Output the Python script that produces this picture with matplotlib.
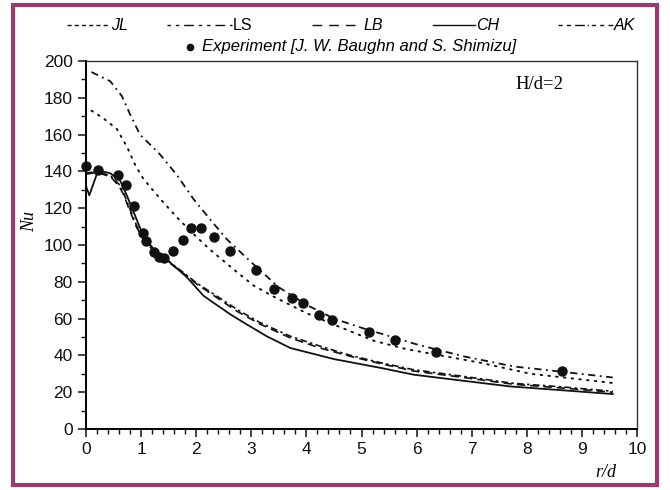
import numpy as np
import matplotlib
matplotlib.use("Agg")
import matplotlib.pyplot as plt
from matplotlib.lines import Line2D
from matplotlib.patches import Rectangle


# Données expérimentales (Baughn & Shimizu)
exp_r = [0.0, 0.22, 0.58, 0.72, 0.87, 1.04, 1.09, 1.24, 1.33, 1.42, 1.58, 1.76, 1.90,
         2.09, 2.33, 2.61, 3.09, 3.42, 3.74, 3.94, 4.23, 4.46, 5.13, 5.6, 6.36, 8.64]
exp_nu = [143, 140.5, 138, 132.5, 121, 106.5, 102, 96, 93.5, 93, 96.5, 102.5, 109.5,
          109.5, 104.5, 96.5, 86.5, 76, 71, 68.5, 62, 59, 52.5, 48.5, 42, 31.5]

# Modèles de turbulence
ak_r = [0.1, 0.44, 0.65, 0.8, 0.98, 1.35, 1.65, 1.95, 2.25, 2.56, 3.04, 3.5, 4.0,
        4.5, 5.0, 5.5, 6.0, 6.85, 7.76, 8.67, 9.56]
ak_nu = [194, 189, 181, 171, 160, 149, 138, 125, 114, 103, 89.5, 77, 67.5,
         60, 55, 50.5, 46, 39.5, 34, 31, 28]

jl_r = [0.1, 0.31, 0.56, 0.75, 0.9, 1.04, 1.35, 1.65, 1.95, 2.25, 2.67, 3.04, 3.4,
        4.0, 4.56, 5.22, 5.8, 6.25, 7.16, 8.07, 8.67, 9.56]
jl_nu = [173, 169, 163, 153, 143, 136, 125, 115, 106, 97.5, 87, 78, 72,
         63, 56, 48, 43.5, 41, 36, 30, 28, 25]

ch_r = [0.0, 0.06, 0.22, 0.44, 0.62, 0.74, 0.89, 1.04, 1.22, 1.47, 1.83, 2.13, 2.31,
        2.62, 2.92, 3.28, 3.71, 4.5, 5.35, 5.95, 6.85, 7.71, 8.67, 9.56]
ch_nu = [132, 127, 140.5, 139, 135, 127, 116, 105, 98, 92, 82.5, 72.5, 68.7,
         62.3, 56.8, 50.4, 44, 38, 33.2, 29.5, 26.2, 23.1, 21, 19]

ls_r = [0.0, 0.2, 0.45, 0.6, 0.68, 0.77, 0.92, 1.1, 1.35, 1.77, 2.0, 2.37, 2.74,
        3.16, 3.71, 4.25, 4.8, 5.35, 5.95, 6.85, 7.76, 8.67, 9.56]
ls_nu = [139, 140, 137.5, 133, 128.5, 121.5, 110.5, 101.5, 94.5, 85, 79.5, 72.3, 65,
         57.8, 50.4, 45, 40, 36, 32.2, 28.6, 24.8, 22.8, 20.5]
lb_nu = [138.5, 139.5, 137, 132, 127.5, 120.5, 109.5, 100.5, 94, 84.5, 79, 71.5, 64,
         57, 49.5, 44, 39.5, 35.5, 31.5, 28, 24.3, 22.2, 20]

legend_labels = ["JL", "LS", "LB", "CH", "AK"]

W, H = 670, 490
fig = plt.figure(figsize=(6.7, 4.9), dpi=100)
ax = fig.add_axes([86 / W, 1 - 429 / H, (637 - 86) / W, (429 - 61) / H])

k = "#111111"
ax.plot(jl_r, jl_nu, color=k, lw=1.4, linestyle=(0, (0.8, 3.2)), dash_capstyle="round")
ax.plot(ak_r, ak_nu, color=k, lw=1.3, linestyle=(0, (4, 2.5, 1, 2.5)))
ax.plot(ls_r, ls_nu, color=k, lw=1.2, linestyle=(0, (4, 2, 1.5, 2)))
ax.plot(ls_r, lb_nu, color=k, lw=1.2, linestyle=(0, (5, 3)))
ax.plot(ch_r, ch_nu, color=k, lw=1.3, linestyle="-")
ax.plot(exp_r, exp_nu, "o", color=k, ms=6.5, clip_on=False)

ax.set_xlim(0, 10)
ax.set_ylim(0, 200)
ax.set_xticks(np.arange(0, 11, 1))
ax.set_xticks(np.arange(0, 10.01, 0.2), minor=True)
ax.set_yticks(np.arange(0, 201, 20))
ax.set_yticks(np.arange(0, 201, 10), minor=True)
ax.tick_params(axis="both", which="major", direction="out", length=6, width=1.1,
               labelsize=12.5, colors=k)
ax.tick_params(axis="both", which="minor", direction="out", length=3.5, width=1, colors=k)
for s in ["left", "bottom"]:
    ax.spines[s].set_linewidth(1.4)
for s in ["top", "right"]:
    ax.spines[s].set_linewidth(1.0)
    ax.spines[s].set_color("#333333")
for lab in ax.get_xticklabels() + ax.get_yticklabels():
    lab.set_fontfamily("Liberation Sans")

ax.text(0.866, 0.935, "H/d=2", transform=ax.transAxes, ha="right", va="center",
        fontsize=13.5, family="Liberation Serif")

fig.text(30 / W, 1 - 222 / H, "Nu", rotation=90, ha="center", va="center",
         fontsize=13, family="Liberation Serif", style="italic")
fig.text(606 / W, 1 - 472 / H, "r/d", ha="center", va="center",
         fontsize=13, family="Liberation Serif", style="italic")

# Légende dessinée à la main en haut
row_y = 1 - 25 / H
leg_items = [
    (67, 110, (0, (3, 2.2))),
    (167, 232, (0, (2.5, 3.5, 2.5, 3.5, 7, 3.5))),
    (312, 362, (0, (7, 5))),
    (433, 475, "-"),
    (558, 613, (0, (3, 3, 3, 3, 7, 2, 1, 2))),
]
for (x0, x1, style), lab in zip(leg_items, legend_labels):
    fig.add_artist(Line2D([x0 / W, x1 / W], [row_y, row_y], transform=fig.transFigure,
                          color=k, lw=1.0, linestyle=style))
    fig.text((x1 + 1) / W, row_y, lab, ha="left", va="center", fontsize=11.5,
             family="Liberation Sans", style="normal" if lab == "LS" else "italic")

row2_y = 1 - 47 / H
fig.add_artist(Line2D([190 / W], [row2_y], transform=fig.transFigure, marker="o",
                      color=k, ms=4.5, lw=0))
fig.text(202 / W, row2_y, "Experiment [J. W. Baughn and S. Shimizu]", ha="left",
         va="center", fontsize=12, family="Liberation Sans", style="italic")

# Cadre violet autour de la figure
fig.add_artist(Rectangle((13 / W, 5 / H), (657 - 13) / W, (485 - 5) / H,
                         transform=fig.transFigure, fill=False,
                         edgecolor="#9b3a6b", lw=3))

fig.savefig("out.png", dpi=100)
